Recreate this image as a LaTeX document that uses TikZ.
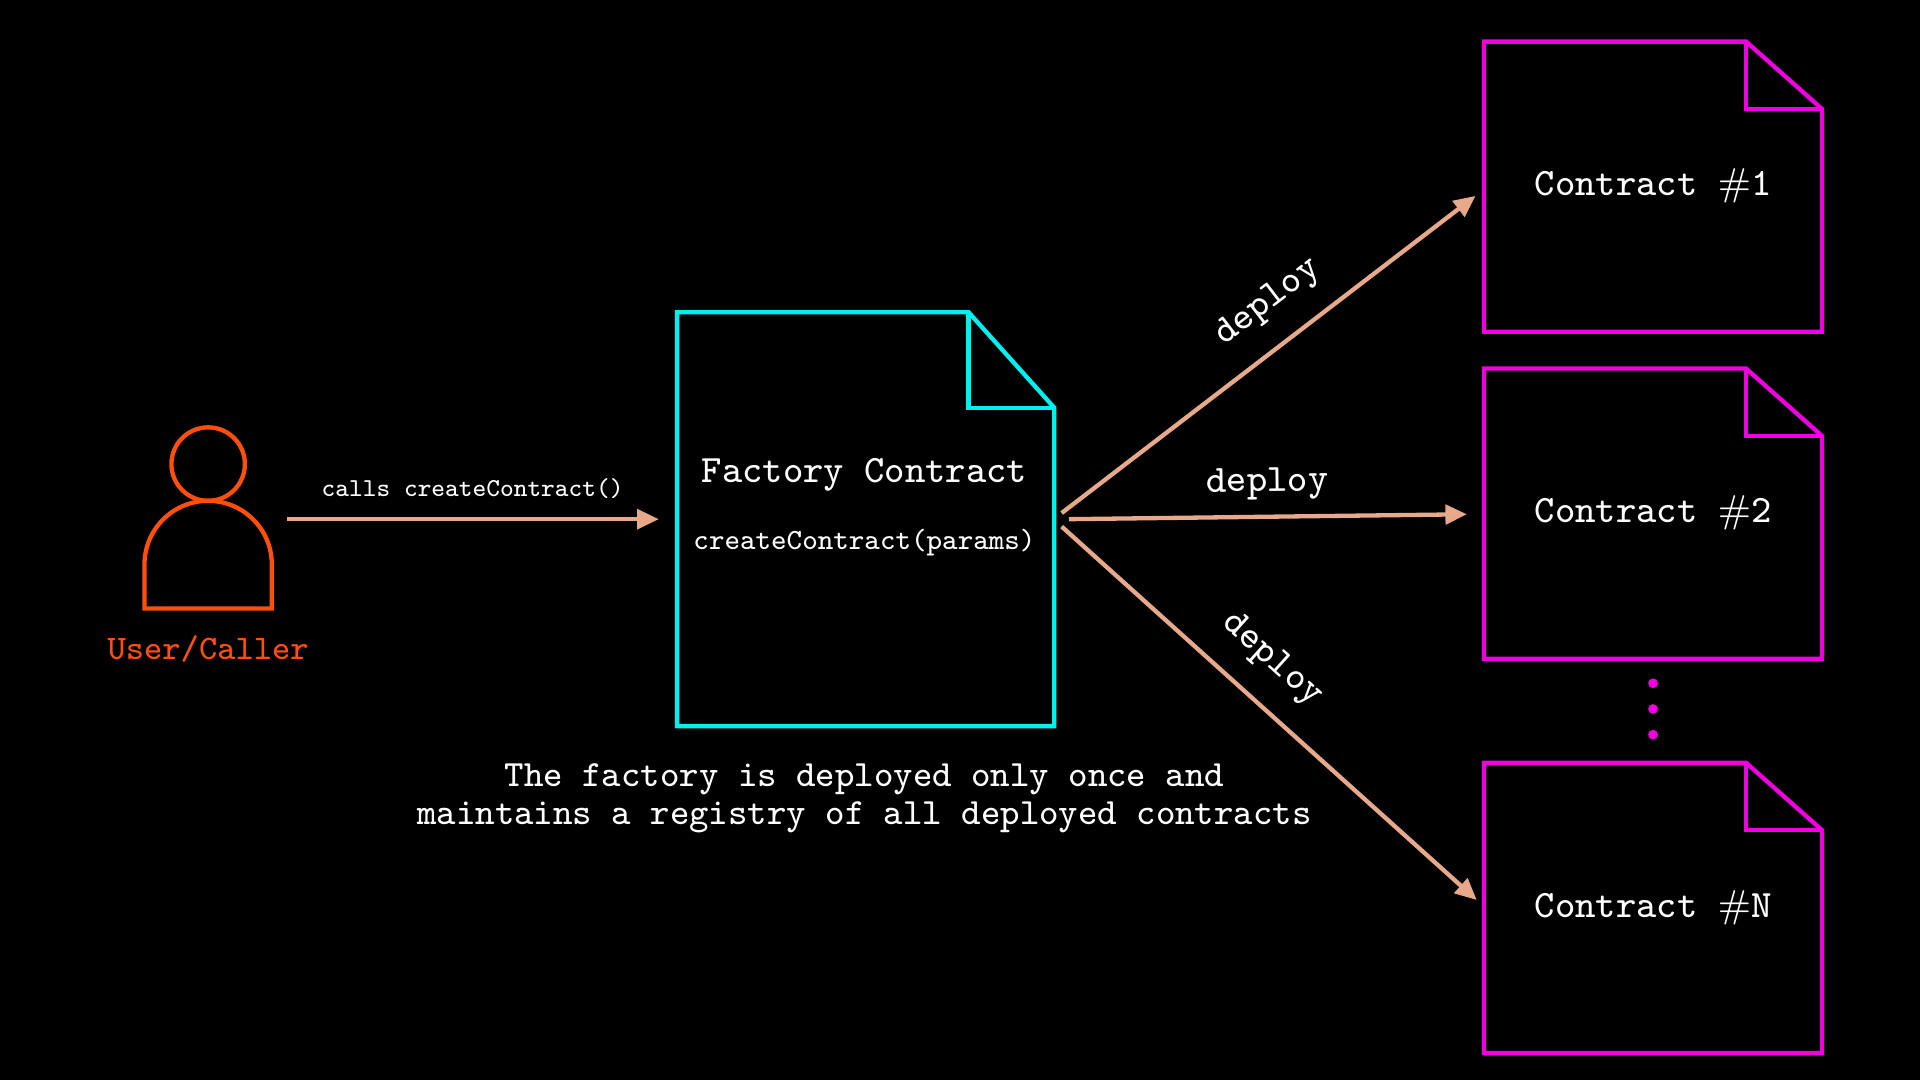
\documentclass[tikz,border=0pt]{standalone}
\usetikzlibrary{arrows.meta}
\begin{document}
\begin{tikzpicture}[x=0.01cm,y=-0.01cm,
  fg/.style={line width=1pt},
  arr/.style={line width=1pt,draw=peach,-{Triangle[length=5pt,width=4.5pt]}},
  lbl/.style={text=white,font=\ttfamily\fontsize{9}{10}\selectfont},
  dep/.style={text=white,font=\ttfamily\fontsize{9}{10}\selectfont}]
\definecolor{peach}{HTML}{E8A88A}
\definecolor{orng}{HTML}{FF4F0A}
\definecolor{cyn}{HTML}{00F0F0}
\definecolor{mag}{HTML}{F000E0}
\fill[black] (0,0) rectangle (1568,882);
\useasboundingbox (0,0) rectangle (1568,882);
% user
\draw[fg,orng] (170,379) circle (30);
\draw[fg,orng] (118,497) -- (118,461) arc[start angle=180,end angle=360,radius=52] -- (222,497) -- cycle;
\node[text=orng,font=\ttfamily\fontsize{8}{10}\selectfont] (user) at (170,530) {User/Caller};
\coordinate (ua) at (234,424);
\coordinate (fa) at (538,424);
\draw[arr] (ua) -- (fa) node[midway,above=1pt,text=white,font=\ttfamily\fontsize{6}{8}\selectfont] {calls createContract()};
% factory
\draw[fg,cyn] (553,255) -- (791,255) -- (861,333) -- (861,593) -- (553,593) -- cycle;
\draw[fg,cyn] (791,255) -- (791,333) -- (861,333);
\node[lbl] (ft) at (706,388) {Factory Contract};
\node[text=white,font=\ttfamily\fontsize{6.8}{8}\selectfont] (fp) at (706,443) {createContract(params)};
% contracts
\foreach \y/\n/\t in {34/c1/1,301/c2/2,623/cn/N}{
  \draw[fg,mag] (1212,\y) -- (1426,\y) -- (1488,\y+55) -- (1488,\y+237) -- (1212,\y+237) -- cycle;
  \draw[fg,mag] (1426,\y) -- (1426,\y+55) -- (1488,\y+55);
  \node[lbl] (\n) at (1350,\y+118) {Contract $\#$\t};
}
\foreach \y in {558,579,600} \fill[mag] (1350,\y) circle (4);
% deploy arrows
\coordinate (s1) at (867,419); \coordinate (e1) at (1205,160);
\coordinate (s2) at (873,424); \coordinate (e2) at (1198,420);
\coordinate (s3) at (867,430); \coordinate (e3) at (1206,735);
\draw[arr] (s1) -- (e1) node[pos=0.56,above=2pt,sloped,dep] {deploy};
\draw[arr] (s2) -- (e2) node[pos=0.5,above=0pt,sloped,dep] {deploy};
\draw[arr] (s3) -- (e3) node[pos=0.44,above=2pt,sloped,dep] {deploy};
% caption
\node[text=white,font=\ttfamily\fontsize{8.6}{9}\selectfont,align=center] (cap) at (706,652) {The factory is deployed only once and\\maintains a registry of all deployed contracts};
\end{tikzpicture}
\end{document}
